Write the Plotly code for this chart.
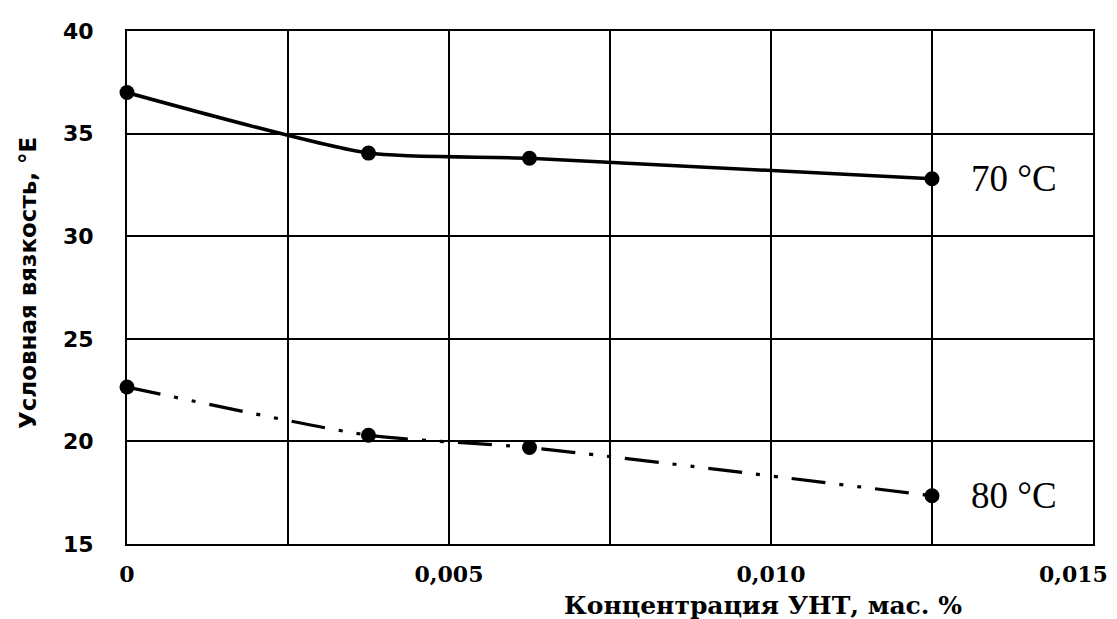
import plotly.graph_objects as go

# Data
conc = [0, 0.00375, 0.00625, 0.0125]          # Концентрация УНТ, мас. %
visc_70 = [37.0, 34.05, 33.8, 32.8]            # 70 °C
visc_80 = [22.65, 20.3, 19.7, 17.35]           # 80 °C
x_tickvals = [0, 0.005, 0.010, 0.015]
x_ticktext = ["0", "0,005", "0,010", ""]
last_tick_text = "0,015"
y_tickvals = [15, 20, 25, 30, 35, 40]
series_labels = ["70 °C", "80 °C"]

OFF = 8  # page body margin
W, H = 1117 - OFF, 619 - OFF
# plot area in page pixels: left 127, right 1093, top 31, bottom 544
L, R, T, B = 127 - OFF, 1117 - 1093, 31 - OFF, 619 - 544
pw, ph = W - L - R, H - T - B


def px_x(p):
    return (p - OFF - L) / pw


def px_y(p):
    return (H - B - (p - OFF)) / ph


fig = go.Figure()

fig.add_trace(go.Scatter(
    x=conc, y=visc_70, mode="lines+markers",
    line=dict(color="black", width=3.5, shape="spline", smoothing=0.6),
    marker=dict(color="black", size=15),
    cliponaxis=False, showlegend=False,
))
fig.add_trace(go.Scatter(
    x=conc, y=visc_80, mode="lines+markers",
    line=dict(color="black", width=3.2, shape="spline", smoothing=0.6,
              dash="34px,14px,4px,14px,4px,14px"),
    marker=dict(color="black", size=15),
    cliponaxis=False, showlegend=False,
))

for val, lab in zip([visc_70[-1], visc_80[-1]], series_labels):
    fig.add_annotation(x=0.01308, y=val, xref="x", yref="y",
                       text=lab, showarrow=False, xanchor="left",
                       yanchor="middle",
                       font=dict(family="Liberation Serif", size=37,
                                 color="black"))

# last x tick label (shifted left so it stays inside the picture)
fig.add_annotation(x=px_x(1073), y=px_y(574), xref="paper", yref="paper",
                   text=last_tick_text, showarrow=False,
                   xanchor="center", yanchor="middle",
                   font=dict(family="DejaVu Serif", size=22, color="black",
                             weight="bold"))

# Axis titles
fig.add_annotation(x=px_x(763), y=px_y(606), xref="paper", yref="paper",
                   text="Концентрация УНТ, мас. %", showarrow=False,
                   xanchor="center", yanchor="middle",
                   font=dict(family="DejaVu Serif", size=25, color="black",
                             weight="bold"))
fig.add_annotation(x=px_x(28), y=px_y(283), xref="paper", yref="paper",
                   text="Условная вязкость, °E", showarrow=False,
                   textangle=-90, xanchor="center", yanchor="middle",
                   font=dict(family="DejaVu Sans", size=23, color="black",
                             weight="bold"))

fig.update_layout(
    width=W, height=H,
    margin=dict(l=L, r=R, t=T, b=B, autoexpand=False),
    paper_bgcolor="white", plot_bgcolor="white",
    xaxis=dict(
        range=[0, 0.015], tickvals=x_tickvals, ticktext=x_ticktext,
        showgrid=True, gridcolor="black", gridwidth=2,
        minor=dict(dtick=0.0025, showgrid=True, gridcolor="black", gridwidth=2),
        zeroline=False, showline=True, linecolor="black", linewidth=2,
        mirror=True, ticks="", ticklabelstandoff=10, automargin=False,
        tickfont=dict(family="DejaVu Serif", size=22, color="black",
                      weight="bold"),
    ),
    yaxis=dict(
        range=[15, 40], tickvals=y_tickvals,
        showgrid=True, gridcolor="black", gridwidth=2,
        zeroline=False, showline=True, linecolor="black", linewidth=2,
        mirror=True, ticks="", ticklabelstandoff=27, automargin=False,
        tickfont=dict(family="DejaVu Sans", size=22, color="black",
                      weight="bold"),
    ),
)

fig.write_html("out.html")
